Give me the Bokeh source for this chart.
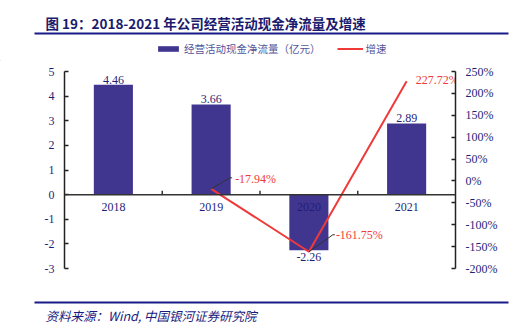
from bokeh.plotting import figure
from bokeh.layouts import column
from bokeh.models import (Range1d, LinearAxis, FixedTicker, PrintfTickFormatter, Span,
                          Legend, LegendItem, ColumnDataSource)
from bokeh.core.properties import value
from bokeh.embed import file_html
from bokeh.resources import INLINE

# ---- data ----
years = ["2018", "2019", "2020", "2021"]
cash_flow = [4.46, 3.66, -2.26, 2.89]
cash_labels = ["4.46", "3.66", "-2.26", "2.89"]
growth_years = ["2019", "2020", "2021"]
growth = [-17.94, -161.75, 227.72]
growth_labels = ["-17.94%", "-161.75%", "227.72%"]
left_ticks = [-3, -2, -1, 0, 1, 2, 3, 4, 5]
right_ticks = [-200, -150, -100, -50, 0, 50, 100, 150, 200, 250]

title_text = "图 19：2018-2021 年公司经营活动现金净流量及增速"
source_text = "资料来源：Wind, 中国银河证券研究院"
bar_name = "经营活动现金净流量（亿元）"
line_name = "增速"

# ---- layout ----
W = 513
TOP_H, MAIN_H, BOT_H = 61, 224, 46
FL, FR = 64, 455
M_TOP, M_BOT = 10, 17          # main figure borders around the 197px frame
FRAME_H = MAIN_H - M_TOP - M_BOT
NAVY = "#1f1f7a"
RULE = "#1a1a8a"
BAR = "#41368f"
RED = "#f03a3a"
SERIF = "Liberation Serif"
CJK = "Noto Sans CJK SC"


def strip(h):
    f = figure(width=W, height=h, output_backend="svg", toolbar_location=None,
               x_range=Range1d(0, W), y_range=Range1d(0, h),
               x_axis_location=None, y_axis_location=None,
               min_border_left=0, min_border_right=0,
               min_border_top=0, min_border_bottom=0)
    f.outline_line_color = None
    f.xgrid.visible = False
    f.ygrid.visible = False
    f.border_fill_color = "white"
    f.background_fill_color = "white"
    f.frame_align = False
    return f


# ---- top strip: title, rule, legend (y measured upward from strip bottom) ----
top = strip(TOP_H)
top.text(x=[45], y=[TOP_H - 22], text=[title_text], text_font=value(CJK),
         text_font_size="13.5px", text_font_style="bold", text_color="#1a1a6e",
         text_baseline="middle", text_align="left")
top.segment(x0=[34], y0=[TOP_H - 33], x1=[508], y1=[TOP_H - 33],
            line_color=RULE, line_width=2)
lb = top.vbar(x=[-100], top=[1], width=1, fill_color=BAR, line_color=None)
ll = top.line(x=[-100, -90], y=[1, 1], line_color=RED, line_width=2)
legend = Legend(items=[LegendItem(label=bar_name, renderers=[lb]),
                       LegendItem(label=line_name, renderers=[ll])],
                orientation="horizontal", location=(155, 5),
                border_line_color=None, background_fill_alpha=0,
                padding=0, margin=0, spacing=16, label_standoff=3,
                glyph_width=26, glyph_height=7, label_height=12,
                label_text_font=CJK, label_text_font_size="10.5px",
                label_text_color="#55559a")
top.add_layout(legend)

# ---- main chart ----
p = figure(width=W, height=MAIN_H, output_backend="svg", toolbar_location=None,
           x_range=Range1d(0.5, 4.5), y_range=Range1d(-3, 5),
           x_axis_location=None,
           min_border_left=FL, min_border_right=W - FR,
           min_border_top=M_TOP, min_border_bottom=M_BOT)
p.outline_line_color = None
p.xgrid.visible = False
p.ygrid.visible = False
p.background_fill_color = "white"
p.border_fill_color = "white"
p.frame_align = False
p.extra_y_ranges = {"pct": Range1d(-200, 250)}


def style_axis(ax):
    ax.axis_line_color = "#222222"
    ax.axis_line_width = 1.5
    ax.major_tick_line_color = "#222222"
    ax.major_tick_line_width = 1.5
    ax.major_tick_in = 4
    ax.major_tick_out = 0
    ax.minor_tick_line_color = None
    ax.major_label_text_font = SERIF
    ax.major_label_text_font_size = "12px"
    ax.major_label_text_color = NAVY


yl = p.yaxis[0]
yl.ticker = FixedTicker(ticks=left_ticks)
yl.formatter = PrintfTickFormatter(format="%d")
style_axis(yl)
yl.major_label_standoff = 10

yr = LinearAxis(y_range_name="pct", ticker=FixedTicker(ticks=right_ticks),
                formatter=PrintfTickFormatter(format="%d%%"))
style_axis(yr)
yr.major_label_standoff = 10
p.add_layout(yr, "right")

# bars
xpos = [years.index(y) + 1 for y in years]
bsrc = ColumnDataSource(dict(x=xpos, v=cash_flow, lab=cash_labels,
                             yo=[-1 if v >= 0 else 3 for v in cash_flow],
                             base=["bottom" if v >= 0 else "top" for v in cash_flow]))
bars = p.vbar(x="x", top="v", bottom=0, width=0.4, source=bsrc,
              fill_color=BAR, line_color=None)

# zero line and category ticks
p.add_layout(Span(location=0, dimension="width", line_color="#333333", line_width=1.5))
px_y = 8 / FRAME_H
px_x = 4 / (FR - FL)
bx = [x + 0.5 for x in xpos[:-1]]
p.segment(x0=bx, y0=[0] * len(bx), x1=bx, y1=[4 * px_y] * len(bx),
          line_color="#333333", line_width=1.5)

# category labels
p.text(x=xpos, y=[0] * len(xpos), text=years, text_align="center",
       text_baseline="top", y_offset=8, text_font=value(SERIF),
       text_font_size="12px", text_color=NAVY)

# bar value labels
p.text(x="x", y="v", text="lab", source=bsrc, text_align="center",
       text_baseline="base", y_offset="yo", text_font=value(SERIF),
       text_font_size="12px", text_color=NAVY)

# growth line
gx = [years.index(g) + 1 for g in growth_years]
gline = p.line(gx, growth, y_range_name="pct", line_color=RED, line_width=2)

pct_px = 450 / FRAME_H
lead_dx = [19, 24, 0]
lead_dy = [11, 17, 0]
for x, g, dx, dy in zip(gx, growth, lead_dx, lead_dy):
    if dx:
        p.line([x, x + dx * px_x, x + (dx + 2) * px_x],
               [g, g + dy * pct_px, g + dy * pct_px],
               y_range_name="pct", line_color="#333333", line_width=1)

gsrc = ColumnDataSource(dict(x=gx, g=growth, lab=growth_labels,
                             xo=[24, 27, 9], yo=[-10, -17, -1]))
p.text(x="x", y="g", text="lab", source=gsrc, y_range_name="pct",
       x_offset="xo", y_offset="yo", text_align="left", text_baseline="middle",
       text_font=value(SERIF), text_font_size="12px", text_color=RED)

# ---- bottom strip: rule and source ----
bot = strip(BOT_H)
bot.segment(x0=[34], y0=[BOT_H - 17], x1=[508], y1=[BOT_H - 17],
            line_color=RULE, line_width=2)
bot.text(x=[45], y=[BOT_H - 30], text=[source_text], text_font=value(CJK),
         text_font_size="12.5px", text_font_style="italic", text_color="#1a1a80",
         text_baseline="middle", text_align="left")

layout = column(top, p, bot, spacing=0)
open("out.html", "w").write(file_html(layout, INLINE))
